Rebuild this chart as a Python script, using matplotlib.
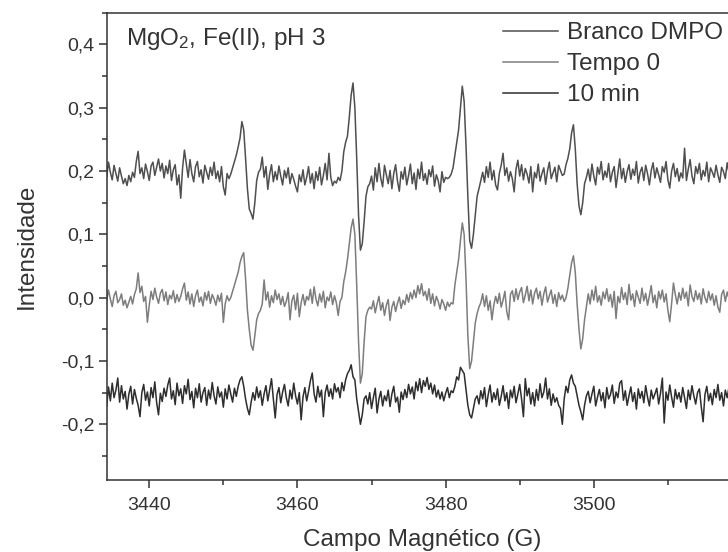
import numpy as np
import matplotlib
matplotlib.use('Agg')
import matplotlib.pyplot as plt
from matplotlib.ticker import FixedLocator, FuncFormatter

# EPR spectra, intensity in units of 0.001, field step 0.25 G from 3434 G
field_start = 3434.0
field_step = 0.25

branco = [
    203, 190, 214, 198, 186, 209, 196, 184, 205, 192,
    180, 188, 177, 193, 183, 198, 190, 215, 231, 196,
    205, 188, 211, 199, 185, 208, 214, 193, 206, 219,
    200, 212, 189, 208, 196, 217, 185, 202, 210, 178,
    194, 157, 205, 233, 212, 190, 218, 196, 183, 207,
    215, 191, 202, 181, 209, 198, 187, 206, 193, 214,
    188, 200, 183, 207, 175, 162, 196, 188,
    195, 205, 215, 225, 238, 252, 278, 265, 220, 172, 140, 133, 124, 150, 185, 198,
    203, 222, 190, 207, 171, 195, 210, 183, 199, 186,
    208, 192, 178, 201, 189, 205, 180, 196, 187, 176,
    167, 194, 183, 202, 178, 190, 207, 181, 196, 172,
    199, 185, 206, 178, 193, 212, 186, 228, 190, 177, 184, 181,
    190, 185, 200, 230, 245, 255, 285, 320, 339, 300, 220, 130, 75, 85, 120, 160, 175, 180,
    192, 170, 205, 183, 212, 188, 175, 209, 194, 180,
    201, 172, 196, 210, 184, 168, 199, 187, 206, 178,
    193, 211, 180, 197, 171, 203, 188, 214, 185, 196,
    179, 202, 191, 208, 176, 194, 185, 167, 199, 182, 190, 188,
    190, 195, 205, 225, 245, 265, 300, 334, 310, 240, 160, 90, 78, 100, 130, 160, 172, 185,
    198, 182, 207, 190, 214, 186, 201, 178, 170, 196,
    209, 228, 193, 205, 184, 199, 188, 167, 203, 217,
    192, 210, 186, 204, 195, 181, 207, 167, 198, 189,
    211, 184, 196, 205, 179, 200, 214, 188, 197, 206, 183, 209, 201, 193,
    195, 210, 220, 235, 260, 273, 235, 180, 145, 131, 150, 180, 190,
    203, 184, 211, 192, 178, 206, 195, 215, 186, 200,
    190, 212, 183, 198, 207, 174, 196, 219, 188, 204,
    182, 199, 210, 187, 203, 193, 215, 181, 198, 206,
    185, 209, 196, 178, 201, 213, 189, 205, 194, 182,
    207, 198, 215, 186, 173, 200, 212, 191, 204, 184,
    197, 189, 236, 185, 203, 218, 192, 180, 207, 196,
    212, 186, 201, 192, 214, 183, 205, 198, 190, 209,
    194, 182, 206, 199, 188, 213, 197, 185, 204, 200,
]

tempo0 = [
    8, -5, 12, -2, -14, 3, 10, -8, -3, 6,
    -12, -4, -16, -7, 2, -10, 5, 14, 39, 8,
    18, -6, 2, -39, -12, 10, -3, 15, 1, -9,
    7, 13, -5, 9, -11, 4, -2, 11, -8, 5,
    -6, 2, 14, 23, -4, 9, -10, 6, -14, 3,
    12, -7, 1, -13, 8, -4, 10, -9, 5, -2,
    -12, 4, -6, 7, -39, -10, 3, -5,
    0, 10, 20, 30, 40, 55, 65, 71, 30, -20, -50, -75, -83, -60, -35, -25, -20, -10,
    28, -4, 9, -15, 3, -8, 12, -3, 6, -11,
    2, -14, -6, 8, -35, -5, 4, -19, 7, -30,
    -8, 5, -12, 2, -4, 13, -9, 17, -2, -13,
    6, -7, 10, -16, 1, -5, 9, -11, 3, -8, -28, -6,
    0, 25, 40, 60, 85, 110, 124, 100, 20, -70, -135, -120, -70, -30, -20, -15,
    -18, -5, -24, -10, 2, -20, -8, -28, -12, -3,
    -36, -15, -6, -22, -9, 1, -17, -4, -11, 5,
    -7, 8, -2, 12, 0, 19, 6, 22, 3, 10,
    -4, 14, -9, 6, -13, 2, -6, -18, -3, -10, -20, -7, -14, -8,
    -10, 20, 40, 60, 90, 118, 100, 30, -60, -112, -100, -70, -40, -25, -15,
    -8, 6, -14, 3, -20, -5, -35, -12, 2, -9,
    7, -15, -4, 10, -22, -35, 5, 11, -6, 14,
    -3, 9, 16, -8, 4, 18, -5, 12, -10, 7,
    15, -2, 10, -12, 6, 17, -7, 3, 12, -9,
    5, -14, 8, -3, 4, -6,
    0, 15, 35, 55, 66, 40, -10, -50, -81, -65, -35, -15,
    6, -10, 12, -4, 18, -7, 3, -12, 9, -2,
    14, -6, 5, -15, 10, -33, 2, -8, 16, -3,
    8, -11, 21, -4, 6, -14, 11, 1, -9, 15,
    -5, 7, -12, 3, 19, -8, 4, -16, 10, -2,
    12, -7, 6, -20, -38, -9, 23, 5, -10, 8,
    -4, 15, -1, 9, -13, 20, 2, -6, 11, -3,
    7, -10, 14, 0, -8, 10, -4, 6, -12, 3,
    -15, -23, 5, 12, -6, 9, -2, 4, -9, 1,
]

min10 = [
    -150, -172, -141, -163, -135, -158, -146, -127, -165, -139,
    -160, -148, -176, -152, -140, -168, -145, -159, -170, -188,
    -150, -137, -162, -149, -171, -142, -158, -133, -166, -185,
    -151, -164, -143, -156, -138, -127, -160, -147, -169, -135,
    -155, -144, -167, -139, -152, -129, -161, -148, -174, -143,
    -158, -136, -165, -150, -142, -170, -146, -160, -134, -155,
    -168, -141, -157, -149, -173, -144, -160, -138, -152, -165,
    -143, -156, -140,
    -130, -125, -140, -160, -175, -185, -165,
    -150, -162, -141, -158, -147, -170, -152, -139, -163, -145,
    -128, -160, -190, -153, -142, -166, -149, -137, -158, -171,
    -146, -160, -135, -155, -168, -150, -193, -157, -142, -163,
    -148, -131, -119, -152, -165, -140, -157, -146, -188, -150,
    -138, -156, -144, -160, -136, -149, -142, -158, -134, -147,
    -130, -120, -115, -106, -125, -130, -160, -180, -200, -185, -160, -155,
    -168, -150, -175, -158, -143, -182, -160, -148, -171, -155,
    -163, -146, -172, -152, -140, -165, -157, -181, -149, -161,
    -145, -158, -137, -152, -141, -160, -133, -147, -128, -150,
    -131, -140, -126, -145, -135, -152, -138, -157, -146, -160,
    -149, -163, -151, -142, -158, -147, -150,
    -140, -125, -130, -110, -115, -120, -145, -170, -185, -190, -175, -160,
    -155, -168, -147, -160, -142, -172, -153, -138, -165, -150,
    -161, -144, -170, -156, -139, -163, -150, -175, -146, -158,
    -140, -166, -152, -137, -160, -188, -128, -155, -143, -168,
    -150, -171, -145, -162, -136, -158, -149, -127, -160, -144,
    -170, -152, -165, -158, -170,
    -175, -200, -160, -140, -150, -130, -122, -135, -140, -155, -170, -180, -193, -170, -155,
    -148, -166, -152, -140, -171, -157, -145, -163, -150, -174,
    -142, -160, -153, -138, -167, -149, -158, -135, -131, -162,
    -147, -170, -155, -141, -164, -150, -176, -144, -159, -148,
    -166, -139, -157, -171, -146, -160, -152, -143, -168, -151,
    -127, -198, -149, -162, -138, -157, -173, -145, -160, -150,
    -165, -142, -158, -175, -146, -161, -139, -155, -168, -150,
    -144, -172, -196, -153, -140, -163, -151, -169, -145, -158,
    -137, -162, -150, -171, -146, -158, -141, -166, -153, -160,
]

labels = ['Branco DMPO', 'Tempo 0', '10 min']
colors = ['#4f4f4f', '#7d7d7d', '#2e2e2e']

x_major = [3440, 3460, 3480, 3500]
x_minor = [3450, 3470, 3490, 3510]
y_major = [-0.2, -0.1, 0.0, 0.1, 0.2, 0.3, 0.4]
y_minor = [-0.25, -0.15, -0.05, 0.05, 0.15, 0.25, 0.35, 0.45]

plt.rcParams['font.family'] = ['Liberation Sans', 'DejaVu Sans']
plt.rcParams['mathtext.fontset'] = 'custom'
plt.rcParams['mathtext.rm'] = 'Liberation Sans'
plt.rcParams['mathtext.it'] = 'Liberation Sans:italic'

txt = '#333333'
fig = plt.figure(figsize=(7.28, 5.52), dpi=100)
# axes run past the right edge of the picture, as in the original crop
ax = fig.add_axes([0.147, 0.1304, 0.974, 0.8466])

for trace, col, lab in zip([branco, tempo0, min10], colors, labels):
    field = field_start + field_step * np.arange(len(trace))
    ax.plot(field, np.array(trace) / 1000.0, color=col, lw=1.1, label=lab)

ax.set_xlim(3434.3, 3530)
ax.set_ylim(-0.288, 0.45)

ax.xaxis.set_major_locator(FixedLocator(x_major))
ax.xaxis.set_minor_locator(FixedLocator(x_minor))
ax.yaxis.set_major_locator(FixedLocator(y_major))
ax.yaxis.set_minor_locator(FixedLocator(y_minor))
ax.yaxis.set_major_formatter(FuncFormatter(lambda v, p: f'{v:.1f}'.replace('.', ',')))

for s in ['left', 'bottom', 'top']:
    ax.spines[s].set_color(txt)
    ax.spines[s].set_linewidth(1.1)
ax.spines['right'].set_visible(False)
ax.tick_params(which='major', direction='out', length=6, width=1.1, color=txt,
               labelsize=14, labelcolor=txt)
ax.tick_params(axis='x', which='major', pad=6)
ax.tick_params(axis='y', which='major', pad=3)
ax.tick_params(which='minor', direction='out', length=3.5, width=1.1, color=txt)

ax.set_xlabel('Campo Magnético (G)', fontsize=17.5, color=txt)
ax.xaxis.set_label_coords(0.444, -0.104)
ax.set_ylabel('Intensidade', fontsize=17.5, color=txt)
ax.yaxis.set_label_coords(-0.097, 0.5)

ax.text(0.027, 0.931, 'MgO$_2$, Fe(II), pH 3', transform=ax.transAxes,
        fontsize=17.5, color=txt, va='baseline', ha='left')

leg = ax.legend(loc='upper left', bbox_to_anchor=(503 / 728, 1 - 22 / 552),
                bbox_transform=fig.transFigure, frameon=False, fontsize=17.5,
                borderpad=0, borderaxespad=0, handlelength=2.26,
                handletextpad=0.37, labelspacing=0.37)
for t in leg.get_texts():
    t.set_color(txt)

fig.savefig('out.png', dpi=100)
